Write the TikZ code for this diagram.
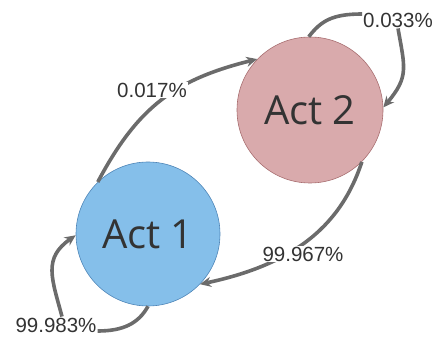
\documentclass[tikz,border=0pt]{standalone}
\usepackage{fontspec}
\setmainfont{Liberation Sans}
\newfontfamily\actfont{Open Sans}
\usetikzlibrary{arrows.meta}
\definecolor{actone}{HTML}{85BFEA}
\definecolor{actoneedge}{HTML}{4F86B8}
\definecolor{acttwo}{HTML}{D9AAAC}
\definecolor{acttwoedge}{HTML}{A86E70}
\definecolor{flow}{HTML}{6B6B6B}
\definecolor{ink}{HTML}{333333}
\begin{document}
\begin{tikzpicture}[x=1pt,y=1pt,
  actnode/.style={circle, minimum size=#1, inner sep=0pt,
    font=\actfont\fontsize{40}{40}\selectfont, text=ink, line width=0.6pt},
  prob/.style={font=\fontsize{20.5}{22}\selectfont, text=ink, fill=white, inner sep=1pt},
  flowline/.style={draw=flow, line width=3.6pt},
  flowarrow/.style={flowline, -{Stealth[length=11pt,width=10pt]}}]
\useasboundingbox (0,0) rectangle (435,337);

% the two states
\node[actnode=144pt, fill=actone, draw=actoneedge] (a1) at (148,103) {Act 1};
\node[actnode=146pt, fill=acttwo, draw=acttwoedge] (a2) at (310,227) {Act 2};

% transitions between the states
\draw[flowarrow] (a1.134) .. controls +(62:85) and +(194:85) .. (a2.136);
\draw[flowarrow] (a2.-45) .. controls +(252:72) and +(12:90) .. (a1.-44);

% transition probabilities
\node[prob] (l017) at (152,247) {0.017\%};
\node[prob] (l967) at (303,83) {99.967\%};
\node[prob] (l033) at (398,317) {0.033\%};
\node[prob] (l983) at (56,12) {99.983\%};

% self loops, broken by their labels
\draw[flowline] (a2.91) .. controls +(52:20) and +(180:30) .. ([yshift=6pt]l033.west);
\draw[flowarrow] (l033.south) .. controls +(-80:40) and +(50:40) .. (a2.2);
\draw[flowline] (a1.-90) .. controls +(241:20) and +(0:25) .. ([yshift=-6pt]l983.east);
\draw[flowarrow] ([xshift=6pt]l983.north) .. controls +(105:40) and +(215:40) .. (a1.181);
\end{tikzpicture}
\end{document}
